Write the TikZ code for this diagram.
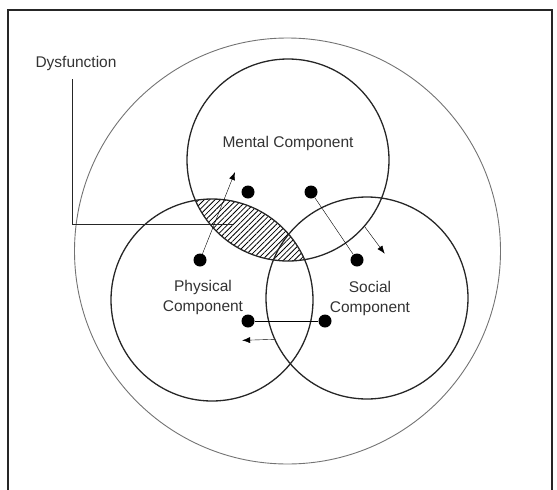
\documentclass[tikz,border=0pt]{standalone}
\usepackage{fontspec}
\setsansfont{Liberation Sans}
\usetikzlibrary{arrows.meta,positioning,patterns.meta}
\pgfdeclarelayer{background}
\pgfsetlayers{background,main}

\begin{document}
\begin{tikzpicture}[x=1pt,y=-1pt,line width=1.2pt,>={Latex[length=8pt,width=6pt]},
  comp/.style={circle,draw=black!85,line width=1.3pt,minimum size=202pt,inner sep=0pt},
  dot/.style={circle,fill=black,inner sep=0pt,minimum size=13pt},
  lbl/.style={font=\fontsize{15.5}{20}\selectfont,align=center,text=black!80,inner sep=2pt}]
\sffamily
\useasboundingbox (0,0) rectangle (557,490);
\draw[line width=2pt,black!85] (8,490) -- (8,9.5) -- (552,9.5) -- (552,490);

\node[circle,draw=black!55,line width=0.9pt,minimum size=426pt,inner sep=0pt] (w) at (287.5,251) {};

\node[comp] (m) at (288,160) {};
\node[comp] (p) at (212,300) {};
\node[comp] (s) at (367,298) {};

% overlap of mental and physical
\begin{pgfonlayer}{background}
\clip (m.center) circle [radius=101pt];
\fill[pattern={Lines[angle=45,distance=3.8pt,line width=0.8pt]}] (p.center) circle [radius=101pt];
\end{pgfonlayer}

\node[lbl] (mt) at (288,143) {Mental Component};
\node[lbl] (pt) at (203,297) {Physical\\Component};
\node[lbl] (st) at (370,298) {Social\\Component};

\node[lbl] (dys) at (76,63) {Dysfunction};
\coordinate (dysend) at (233,224);
\draw[black!85,line width=1pt] ([xshift=-4pt,yshift=-7pt]dys.south) |- (dysend);

\node[dot] (p1) at (200,260) {};
\node[dot] (m1) at (248,192) {};
\node[dot] (m2) at (311,192) {};
\node[dot] (s1) at (357,260) {};
\node[dot] (p2) at (248,321) {};
\node[dot] (s2) at (325,321) {};

\coordinate (ptip) at (235,172);
\draw[->] (p1) -- (ptip);
\draw (m2) -- (s1);
\draw (p2) -- (s2);
\draw[->] (m.-41) -- ++(20,27);
\draw[->] (s.204) -- ++(-32,1);
\end{tikzpicture}
\end{document}
